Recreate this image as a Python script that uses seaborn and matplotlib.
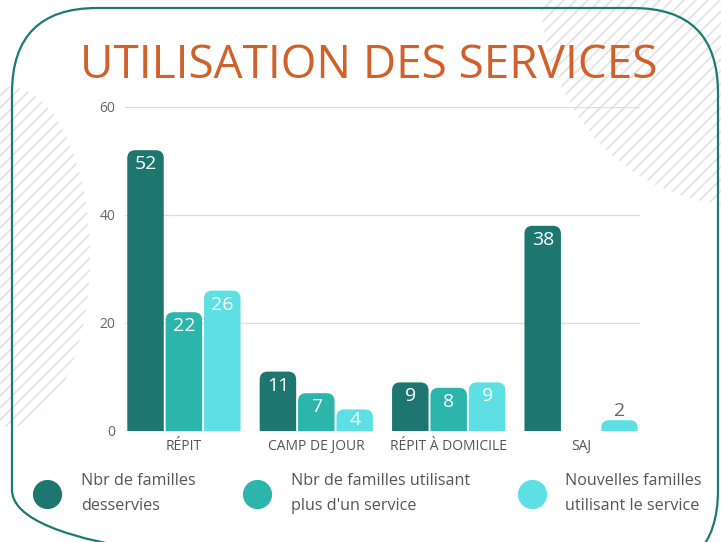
import pandas as pd
import matplotlib.pyplot as plt
import seaborn as sns
from matplotlib.patches import FancyBboxPatch, Ellipse
from matplotlib.lines import Line2D

# data
services = ["RÉPIT", "CAMP DE JOUR", "RÉPIT À DOMICILE", "SAJ"]
series = [
    "Nbr de familles\ndesservies",
    "Nbr de familles utilisant\nplus d'un service",
    "Nouvelles familles\nutilisant le service",
]
desservies = [52, 11, 9, 38]
plus_un_service = [22, 7, 8, 0]
nouvelles = [26, 4, 9, 2]
yticks = [0, 20, 40, 60]

colors = ["#1d7770", "#2bb5ab", "#5ddfe3"]

rows = []
for name, vals in zip(series, [desservies, plus_un_service, nouvelles]):
    for s, v in zip(services, vals):
        rows.append({"service": s, "serie": name, "valeur": v})
df = pd.DataFrame(rows)

sns.set_style("white")
plt.rcParams["font.family"] = ["Open Sans", "DejaVu Sans"]

fig = plt.figure(figsize=(7.21, 5.42), dpi=100)

# background: rounded frame + hatched decorations (pixel coords)
bg = fig.add_axes([0, 0, 1, 1], zorder=0)
bg.set_xlim(0, 721)
bg.set_ylim(542, 0)
bg.axis("off")

for center, w, h in [((10, 257), 160, 340), ((740, -10), 400, 430)]:
    clip = Ellipse(center, w, h, transform=bg.transData)
    for c in range(-300, 1400, 12):
        ln, = bg.plot([-50, 800], [c + 50, c - 800], color="#e4e4e4", lw=1.3, zorder=1)
        ln.set_clip_path(clip)

frame = FancyBboxPatch((12, 8), 706, 567, boxstyle="round,pad=0,rounding_size=85",
                       fill=False, ec="#1b7a72", lw=1.6, clip_on=False, zorder=5)
bg.add_patch(frame)

# main chart
ax = fig.add_axes([125 / 721, 111 / 542, 515 / 721, 324 / 542], zorder=1)
ax.patch.set_alpha(0)

sns.barplot(data=df, x="service", y="valeur", hue="serie", order=services,
            hue_order=series, palette=colors, saturation=1, width=0.87, gap=0.05,
            legend=False, ax=ax)

ax.set_xlim(-0.445, 3.445)
ax.set_ylim(0, 60)
ax.set_yticks(yticks)
ax.set_xlabel("")
ax.set_ylabel("")
ax.grid(axis="y", color="#dcdcdc", lw=0.9)
ax.set_axisbelow(True)
sns.despine(ax=ax, left=True, bottom=True)
ax.tick_params(axis="y", length=0, pad=7, labelsize=10, labelcolor="#666666")
ax.tick_params(axis="x", length=0, pad=6, labelsize=10, labelcolor="#555555")

# rounded tops
p0 = ax.transData.transform((0, 0))
px_x = ax.transData.transform((1, 0))[0] - p0[0]
px_y = ax.transData.transform((0, 1))[1] - p0[1]
radius = 8
rx = radius / px_x
ry = radius / px_y

for bar in list(ax.patches):
    x, w, h = bar.get_x(), bar.get_width(), bar.get_height()
    fc = bar.get_facecolor()
    bar.remove()
    if h <= 0:
        continue
    ax.add_patch(FancyBboxPatch((x, -4), w, h + 4,
                                boxstyle=f"round,pad=0,rounding_size={rx}",
                                mutation_aspect=ry / rx, fc=fc, ec="none", zorder=2))
    h_px = h * px_y
    if h_px < 16:
        ax.annotate(f"{h:.0f}", (x + w / 2, h), xytext=(0, 9 * 0.72),
                    textcoords="offset points", ha="center", va="center",
                    fontsize=14, color="#666666", zorder=3)
    else:
        off = min(14, h_px / 2) * 0.72
        ax.annotate(f"{h:.0f}", (x + w / 2, h), xytext=(0, -off),
                    textcoords="offset points", ha="center", va="center",
                    fontsize=14, color="white", zorder=3)

# title, sized so it spans the same width as in the picture
title = fig.text(369 / 721, (542 - 78) / 542, "UTILISATION DES SERVICES", ha="center",
                 va="baseline", fontsize=32, color="#d0612b",
                 family=["Open Sans", "DejaVu Sans"])
renderer = fig.canvas.get_renderer()
tw = title.get_window_extent(renderer).width
title.set_fontsize(32 * 578 / tw)

handles = [Line2D([0], [0], marker="o", linestyle="", markersize=20,
                  markerfacecolor=c, markeredgecolor=c) for c in colors]
leg = fig.legend(handles, series, ncol=3, loc="center", bbox_to_anchor=(0.51, 0.09),
                 frameon=False, fontsize=11.6, handlelength=1.7, handletextpad=1.25,
                 columnspacing=2.97, labelcolor="#555555")
for t in leg.get_texts():
    t.set_linespacing(1.75)

plt.savefig("out.png", dpi=100)
